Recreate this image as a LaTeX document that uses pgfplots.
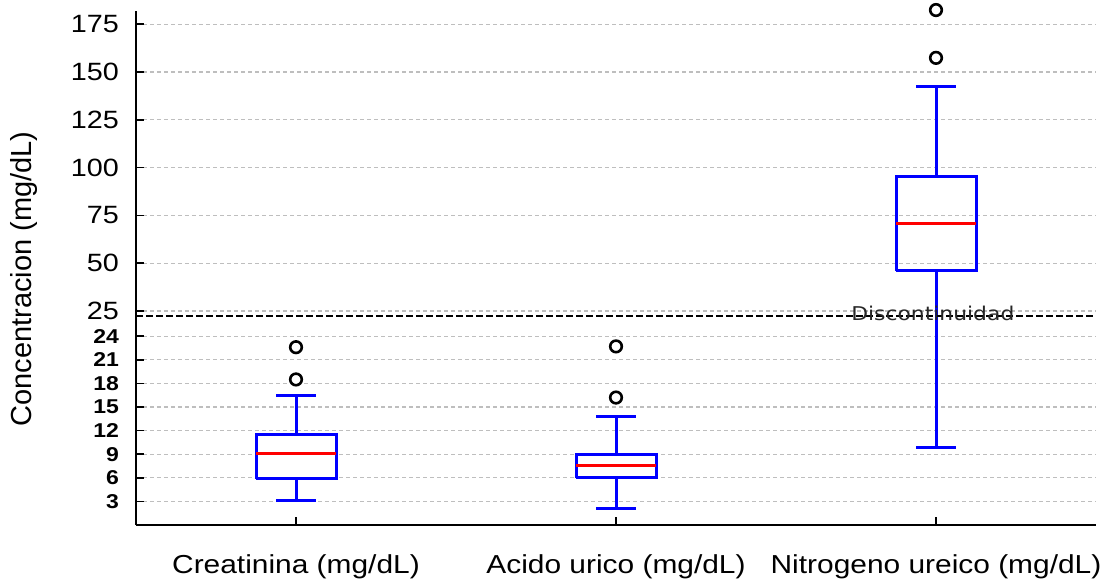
\documentclass[border=0pt]{standalone}
\usepackage{pgfplots}
\pgfplotsset{compat=1.18}
\usepackage{fontspec}
\setmainfont[FakeStretch=1.15]{Liberation Sans}
\newfontfamily\labelfont{Liberation Sans}
\newfontfamily\notefont[FakeStretch=1.15]{DejaVu Sans}
\definecolor{gridgray}{RGB}{190,190,190}
% small bold labels for the lower (expanded) part of the scale
\newcommand\lo[1]{{\fontsize{10}{11}\selectfont\bfseries #1}}
\pgfplotsset{
  brokenpart/.style={
    scale only axis,
    width=480pt,
    xmin=0.5, xmax=3.5,
    /pgf/number format/assume math mode=true,
    y axis line style={-, line width=1.1pt},
    tick align=inside,
    major tick length=3.8pt,
    tick style={black, line width=0.8pt},
    yticklabel style={font=\fontsize{12.5}{13}\selectfont, xshift=-5pt},
    ymajorgrids,
    major grid style={gridgray, line width=0.6pt, dash pattern=on 2.2pt off 1.3pt},
  },
  boxline/.style={blue, line width=1.5pt, line join=miter, no marks},
  medline/.style={red, line width=1.5pt, no marks},
  outl/.style={only marks, mark=o, mark size=2.9pt, mark options={black, line width=1.3pt}},
}
\begin{document}
\begin{tikzpicture}
% lower part of the scale: 0 to the break
\begin{axis}[
  brokenpart,
  height=104.65pt,
  ymin=0, ymax=26.6,
  axis x line*=bottom, axis y line*=left,
  x axis line style={-, line width=1.1pt},
  xtick={1,2,3},
  xticklabels={Creatinina (mg/dL), Acido urico (mg/dL), Nitrogeno ureico (mg/dL)},
  xticklabel style={font=\fontsize{13}{14}\selectfont, yshift=-11.5pt},
  ytick={3,6,9,12,15,18,21,24},
  yticklabels={\lo{3},\lo{6},\lo{9},\lo{12},\lo{15},\lo{18},\lo{21},\lo{24}},
  every axis y label/.style={at={(axis description cs:-0.1167,1.175)}, rotate=90, anchor=center},
  ylabel={\labelfont\fontsize{14.5}{15}\selectfont Concentracion (mg/dL)},
]
\coordinate (bl) at (rel axis cs:0,0);
\coordinate (brkL) at (rel axis cs:0,1);
\coordinate (brkR) at (rel axis cs:1,1);
\coordinate (brkT) at (rel axis cs:0.830,1);

% Creatinina: whiskers 3.1 / 16.5, quartiles 5.9 / 11.5, median 9.05
\addplot[boxline] coordinates {(1,3.1) (1,5.9)};
\addplot[boxline] coordinates {(1,11.5) (1,16.5)};
\addplot[boxline] coordinates {(0.9375,3.1) (1.0625,3.1)};
\addplot[boxline] coordinates {(0.9375,16.5) (1.0625,16.5)};
\addplot[boxline] coordinates {(0.875,5.9) (1.125,5.9) (1.125,11.5) (0.875,11.5) (0.875,5.9)};
\addplot[medline] coordinates {(0.875,9.05) (1.125,9.05)};
\addplot[outl] coordinates {(1,22.6) (1,18.5)};

% Acido urico: whiskers 2.15 / 13.8, quartiles 6.0 / 8.95, median 7.55
\addplot[boxline] coordinates {(2,2.15) (2,6.0)};
\addplot[boxline] coordinates {(2,8.95) (2,13.8)};
\addplot[boxline] coordinates {(1.9375,2.15) (2.0625,2.15)};
\addplot[boxline] coordinates {(1.9375,13.8) (2.0625,13.8)};
\addplot[boxline] coordinates {(1.875,6.0) (2.125,6.0) (2.125,8.95) (1.875,8.95) (1.875,6.0)};
\addplot[medline] coordinates {(1.875,7.55) (2.125,7.55)};
\addplot[outl] coordinates {(2,22.7) (2,16.2)};

% Nitrogeno ureico: lower whisker 9.8, runs up to the lower quartile 46.1
\addplot[boxline] coordinates {(3,9.8) (3,46.1)};
\addplot[boxline] coordinates {(2.9375,9.8) (3.0625,9.8)};
\end{axis}

% upper part of the scale: the break to 181.9
\begin{axis}[
  brokenpart,
  at={(brkL)}, anchor=south west,
  height=152.35pt,
  ymin=22.54, ymax=181.9,
  hide x axis,
  axis y line*=left,
  ytick={25,50,75,100,125,150,175},
  clip=false,
]
\coordinate (tr) at (rel axis cs:1,1);

% Nitrogeno ureico: whisker continues from the break, upper whisker 142.3,
% quartiles 46.1 / 95.2, median 70.8
\addplot[boxline] coordinates {(3,22.54) (3,46.1)};
\addplot[boxline] coordinates {(3,95.2) (3,142.3)};
\addplot[boxline] coordinates {(2.9375,142.3) (3.0625,142.3)};
\addplot[boxline] coordinates {(2.875,46.1) (3.125,46.1) (3.125,95.2) (2.875,95.2) (2.875,46.1)};
\addplot[medline] coordinates {(2.875,70.8) (3.125,70.8)};
\addplot[outl] coordinates {(3,182.4) (3,157.4)};
\end{axis}

% the break between both parts
\draw[black, line width=1pt, dash pattern=on 3.5pt off 1.5pt] (brkL) -- (brkR);
\node[font=\notefont\fontsize{9.5}{10}\selectfont, text=black!85, yshift=1.35pt]
  at (brkT) {Discontinuidad};

\pgfresetboundingbox
\path[use as bounding box] ([shift={(-68pt,-29.5pt)}]bl) rectangle ([shift={(5pt,5.5pt)}]tr);
\end{tikzpicture}
\end{document}
